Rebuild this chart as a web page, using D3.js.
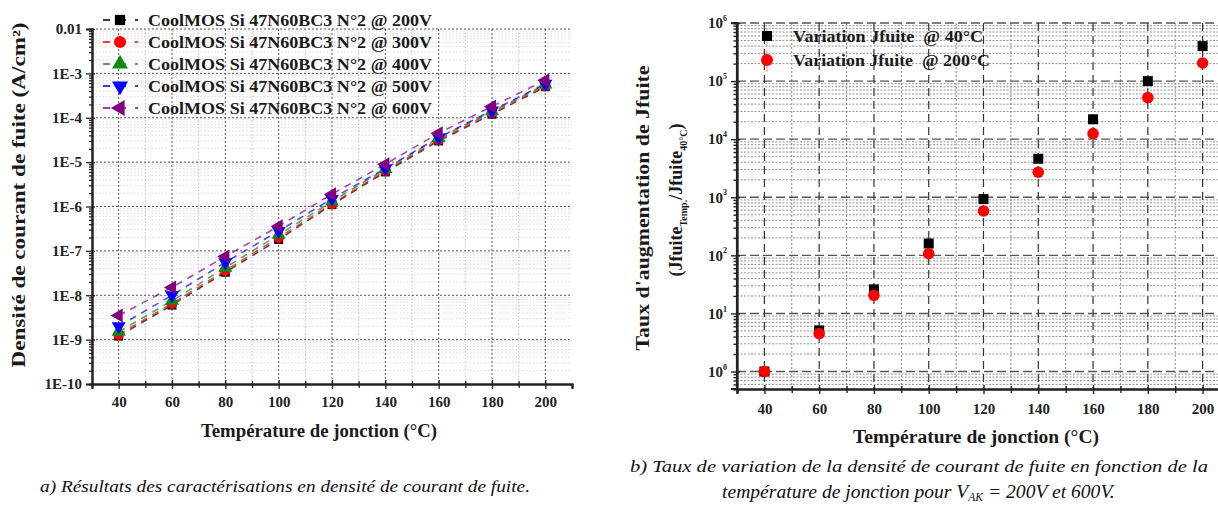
<!DOCTYPE html>
<html><head><meta charset="utf-8">
<script src="https://cdn.jsdelivr.net/npm/d3@7"></script>
<style>body{margin:0;background:#fff}svg{display:block}</style>
</head><body><svg id="c" width="1218" height="507"></svg>
<script>
// ---------- DATA ----------
const temperatures = [40, 60, 80, 100, 120, 140, 160, 180, 200];
const seriesNames = [
  "CoolMOS Si 47N60BC3 N°2 @ 200V",
  "CoolMOS Si 47N60BC3 N°2 @ 300V",
  "CoolMOS Si 47N60BC3 N°2 @ 400V",
  "CoolMOS Si 47N60BC3 N°2 @ 500V",
  "CoolMOS Si 47N60BC3 N°2 @ 600V"
];
const j200V = [1.2e-9, 6.0e-9, 3.3e-8, 1.8e-7, 1.1e-6, 6.0e-6, 3.0e-5, 1.2e-4, 5.0e-4];
const j300V = [1.3e-9, 6.5e-9, 3.6e-8, 2.0e-7, 1.15e-6, 6.4e-6, 3.2e-5, 1.3e-4, 5.3e-4];
const j400V = [1.5e-9, 7.5e-9, 4.2e-8, 2.3e-7, 1.3e-6, 7.0e-6, 3.5e-5, 1.4e-4, 5.6e-4];
const j500V = [2.0e-9, 1.0e-8, 5.5e-8, 2.8e-7, 1.5e-6, 7.2e-6, 3.6e-5, 1.45e-4, 5.8e-4];
const j600V = [3.5e-9, 1.5e-8, 7.5e-8, 3.6e-7, 1.9e-6, 9.0e-6, 4.5e-5, 1.8e-4, 7.0e-4];
const leftYTickValues = [1e-10, 1e-9, 1e-8, 1e-7, 1e-6, 1e-5, 1e-4, 1e-3, 1e-2];
const leftYTickLabels = ["1E-10", "1E-9", "1E-8", "1E-7", "1E-6", "1E-5", "1E-4", "1E-3", "0.01"];
const xTickValues = [40, 60, 80, 100, 120, 140, 160, 180, 200];

const ratioNames = ["Variation Jfuite  @ 40°C", "Variation Jfuite  @ 200°C"];
const ratio40C = [1, 5.1, 26, 160, 930, 4600, 22000, 100000, 400000];
const ratio200C = [1, 4.5, 20.5, 107, 580, 2700, 12500, 52000, 205000];
const rightYExponents = [0, 1, 2, 3, 4, 5, 6];

// ---------- STYLE ----------
const serif = "'Liberation Serif', 'DejaVu Serif', serif";
const colors = ["#000000", "#ff0000", "#118811", "#0000ff", "#800080"];
const svg = d3.select("#c");

// ================= LEFT CHART =================
const L = {x0: 92, x1: 572, y0: 29, y1: 384};
const xL = d3.scaleLinear().domain([30, 210]).range([L.x0, L.x1]);
const yL = d3.scaleLog().domain([1e-10, 1e-2]).range([L.y1, L.y0]);
const gL = svg.append("g");

// minor grid
const minorDecL = [];
for (let e = -10; e < -2; e++) for (let m = 2; m <= 9; m++) minorDecL.push(m * Math.pow(10, e));
gL.selectAll(".mh").data(minorDecL).enter().append("line")
  .attr("x1", L.x0).attr("x2", L.x1).attr("y1", d => yL(d)).attr("y2", d => yL(d))
  .attr("stroke", "#d2d2d2").attr("stroke-width", 0.8).attr("stroke-dasharray", "1.5,2");
const xMinor = d3.range(50, 210, 20);
gL.selectAll(".mv").data(xMinor).enter().append("line")
  .attr("x1", d => xL(d)).attr("x2", d => xL(d)).attr("y1", L.y0).attr("y2", L.y1)
  .attr("stroke", "#b0b0b0").attr("stroke-width", 0.8).attr("stroke-dasharray", "1.5,2");
// major grid
gL.selectAll(".Mh").data(leftYTickValues.slice(1)).enter().append("line")
  .attr("x1", L.x0).attr("x2", L.x1).attr("y1", d => yL(d)).attr("y2", d => yL(d))
  .attr("stroke", "#555").attr("stroke-width", 1).attr("stroke-dasharray", "2,2");
gL.selectAll(".Mv").data(xTickValues).enter().append("line")
  .attr("x1", d => xL(d)).attr("x2", d => xL(d)).attr("y1", L.y0).attr("y2", L.y1)
  .attr("stroke", "#555").attr("stroke-width", 1).attr("stroke-dasharray", "2,2");

// axes
const axL = gL.append("g").attr("transform", `translate(${L.x0},0)`)
  .call(d3.axisLeft(yL).tickValues(leftYTickValues).tickFormat((d, i) => leftYTickLabels[i]).tickSize(6).tickPadding(4));
const axLm = gL.append("g").attr("transform", `translate(${L.x0},0)`)
  .call(d3.axisLeft(yL).tickValues(minorDecL).tickFormat("").tickSize(3));
const axLx = gL.append("g").attr("transform", `translate(0,${L.y1})`)
  .call(d3.axisBottom(xL).tickValues(xTickValues).tickSize(5).tickPadding(7));
const axLxm = gL.append("g").attr("transform", `translate(0,${L.y1})`)
  .call(d3.axisBottom(xL).tickValues(xMinor).tickFormat("").tickSize(4));
[axL, axLm, axLx, axLxm].forEach(a => {
  a.attr("font-family", serif);
  a.select(".domain").attr("stroke", "#222").attr("stroke-width", 2);
  a.selectAll(".tick line").attr("stroke", "#222").attr("stroke-width", 1.3);
  a.selectAll("text").attr("font-family", serif).attr("font-weight", "bold").attr("font-size", 15).attr("fill", "#222");
});
axLx.selectAll(".tick line").attr("y1", -4);
axLxm.selectAll(".tick line").attr("y1", -3);
axL.selectAll(".tick line").attr("x2", -6).attr("x1", 3);

// series
const leftSeries = [j200V, j300V, j400V, j500V, j600V];
const symbols = [
  {t: d3.symbolSquare, s: 80, r: 0},
  {t: d3.symbolCircle, s: 90, r: 0},
  {t: d3.symbolTriangle, s: 85, r: 0},
  {t: d3.symbolTriangle, s: 85, r: 180},
  {t: d3.symbolTriangle, s: 85, r: -90}
];
const line = d3.line().x((d, i) => xL(temperatures[i])).y(d => yL(d));
leftSeries.forEach((s, k) => {
  gL.append("path").datum(s).attr("d", line).attr("fill", "none")
    .attr("stroke", colors[k]).attr("stroke-width", 1.6).attr("stroke-dasharray", "7,6").attr("opacity", 0.7);
});
leftSeries.forEach((s, k) => {
  gL.selectAll(".p" + k).data(s).enter().append("path")
    .attr("d", d3.symbol().type(symbols[k].t).size(symbols[k].s))
    .attr("transform", (d, i) => `translate(${xL(temperatures[i])},${yL(d)}) rotate(${symbols[k].r})`)
    .attr("fill", colors[k]);
});

// legend
seriesNames.forEach((n, k) => {
  const y = 20 + k * 22;
  gL.append("line").attr("x1", 103).attr("x2", 138).attr("y1", y).attr("y2", y)
    .attr("stroke", colors[k]).attr("stroke-width", 1.6).attr("stroke-dasharray", "7,9");
  gL.append("path").attr("d", d3.symbol().type(symbols[k].t).size(symbols[k].s + 25))
    .attr("transform", `translate(120,${y}) rotate(${symbols[k].r})`).attr("fill", colors[k]);
  gL.append("text").attr("x", 148).attr("y", y + 5.5).text(n)
    .attr("font-family", serif).attr("font-weight", "bold").attr("font-size", 17)
    .attr("textLength", 284).attr("lengthAdjust", "spacingAndGlyphs").attr("fill", "#1a1a1a");
});

// axis titles
gL.append("text").attr("transform", "translate(25,195) rotate(-90)").attr("text-anchor", "middle")
  .attr("font-family", serif).attr("font-weight", "bold").attr("font-size", 18).attr("fill", "#1a1a1a")
  .attr("textLength", 345).attr("lengthAdjust", "spacingAndGlyphs")
  .text("Densité de courant de fuite (A/cm²)");
gL.append("text").attr("x", 319).attr("y", 437).attr("text-anchor", "middle")
  .attr("font-family", serif).attr("font-weight", "bold").attr("font-size", 18).attr("fill", "#1a1a1a")
  .attr("textLength", 236).attr("lengthAdjust", "spacingAndGlyphs")
  .text("Température de jonction (°C)");

// ================= RIGHT CHART =================
const R = {x0: 737, x1: 1230, y0: 23, y1: 389};
const xR = d3.scaleLinear().domain([30, 210]).range([R.x0, R.x1]);
const yR = d3.scaleLog().domain([0.5, 1e6]).range([R.y1, R.y0]);
const gR = svg.append("g");
const minorR = [];
for (let m = 5; m <= 9; m++) minorR.push(m / 10);
for (let e = 0; e < 6; e++) for (let m = 2; m <= 9; m++) minorR.push(m * Math.pow(10, e));
const majorR = rightYExponents.map(e => Math.pow(10, e));

gR.selectAll(".mh").data(minorR).enter().append("line")
  .attr("x1", R.x0).attr("x2", R.x1).attr("y1", d => yR(d)).attr("y2", d => yR(d))
  .attr("stroke", "#888").attr("stroke-width", 0.9).attr("stroke-dasharray", "2,1.5");
gR.selectAll(".mv").data(xMinor).enter().append("line")
  .attr("x1", d => xR(d)).attr("x2", d => xR(d)).attr("y1", R.y0).attr("y2", R.y1)
  .attr("stroke", "#777").attr("stroke-width", 0.9).attr("stroke-dasharray", "2,2");
gR.selectAll(".Mh").data(majorR).enter().append("line")
  .attr("x1", R.x0).attr("x2", R.x1).attr("y1", d => yR(d)).attr("y2", d => yR(d))
  .attr("stroke", "#555").attr("stroke-width", 1.4).attr("stroke-dasharray", "9,4");
gR.selectAll(".Mv").data(xTickValues).enter().append("line")
  .attr("x1", d => xR(d)).attr("x2", d => xR(d)).attr("y1", R.y0).attr("y2", R.y1)
  .attr("stroke", "#333").attr("stroke-width", 1.2).attr("stroke-dasharray", "8,5");

const axR = gR.append("g").attr("transform", `translate(${R.x0},0)`)
  .call(d3.axisLeft(yR).tickValues(majorR).tickFormat("").tickSize(6));
const axRm = gR.append("g").attr("transform", `translate(${R.x0},0)`)
  .call(d3.axisLeft(yR).tickValues(minorR).tickFormat("").tickSize(3.5));
const axRx = gR.append("g").attr("transform", `translate(0,${R.y1})`)
  .call(d3.axisBottom(xR).tickValues(xTickValues).tickSize(5).tickPadding(9));
const axRxm = gR.append("g").attr("transform", `translate(0,${R.y1})`)
  .call(d3.axisBottom(xR).tickValues(xMinor).tickFormat("").tickSize(4));
[axR, axRm, axRx, axRxm].forEach(a => {
  a.attr("font-family", serif);
  a.select(".domain").attr("stroke", "#222").attr("stroke-width", 2.2);
  a.selectAll(".tick line").attr("stroke", "#222").attr("stroke-width", 1.4);
  a.selectAll("text").attr("font-family", serif).attr("font-weight", "bold").attr("font-size", 15).attr("fill", "#222");
});
axRx.selectAll(".tick line").attr("y1", -4);
axRxm.selectAll(".tick line").attr("y1", -3);
axR.selectAll(".tick line").attr("x1", 3);
axR.selectAll(".domain").attr("d", `M-6,${R.y1}H0V${R.y0}H-6`);

// y tick labels 10^n
axR.selectAll(".tick").each(function(d, i) {
  const t = d3.select(this).append("text").attr("x", -10).attr("dy", "0.32em")
    .attr("text-anchor", "end").attr("font-family", serif).attr("font-weight", "bold")
    .attr("font-size", 15).attr("fill", "#222");
  t.append("tspan").text("10");
  t.append("tspan").attr("font-size", 8).attr("dy", "-0.9em").text(rightYExponents[i]);
});

// points
gR.selectAll(".sq").data(ratio40C).enter().append("rect")
  .attr("x", (d, i) => xR(temperatures[i]) - 5).attr("y", d => yR(d) - 5)
  .attr("width", 10).attr("height", 10).attr("fill", "#000");
gR.selectAll(".ci").data(ratio200C).enter().append("circle")
  .attr("cx", (d, i) => xR(temperatures[i])).attr("cy", d => yR(d)).attr("r", 5.8).attr("fill", "#ff0000");

// legend
const legR = [{y: 36, k: 0}, {y: 60, k: 1}];
gR.append("line").attr("x1", 767).attr("x2", 767).attr("y1", 28).attr("y2", 46).attr("stroke", "#6ad").attr("stroke-width", 0.8);
gR.append("line").attr("x1", 767).attr("x2", 767).attr("y1", 50).attr("y2", 72).attr("stroke", "#f66").attr("stroke-width", 0.8);
gR.append("rect").attr("x", 762).attr("y", 31).attr("width", 10).attr("height", 10).attr("fill", "#000");
gR.append("circle").attr("cx", 767).attr("cy", 60).attr("r", 6).attr("fill", "#ff0000");
ratioNames.forEach((n, k) => {
  gR.append("text").attr("x", 793).attr("y", legR[k].y + 6).text(n)
    .attr("font-family", serif).attr("font-weight", "bold").attr("font-size", 17).attr("fill", "#1a1a1a")
    .attr("xml:space", "preserve")
    .attr("textLength", k === 0 ? 190 : 197).attr("lengthAdjust", "spacingAndGlyphs");
});

// axis titles
gR.append("text").attr("transform", "translate(649,208) rotate(-90)").attr("text-anchor", "middle")
  .attr("font-family", serif).attr("font-weight", "bold").attr("font-size", 18).attr("fill", "#1a1a1a")
  .attr("textLength", 285).attr("lengthAdjust", "spacingAndGlyphs")
  .text("Taux d'augmentation de Jfuite");
const yt2 = gR.append("text").attr("transform", "translate(682,200) rotate(-90)").attr("text-anchor", "middle")
  .attr("font-family", serif).attr("font-weight", "bold").attr("font-size", 18).attr("fill", "#1a1a1a");
yt2.append("tspan").text("(Jfuite");
yt2.append("tspan").attr("font-size", 10).attr("dy", 5).text("Temp.");
yt2.append("tspan").attr("dy", -5).text("/Jfuite");
yt2.append("tspan").attr("font-size", 10).attr("dy", 5).text("40°C");
yt2.append("tspan").attr("dy", -5).text(")");
gR.append("text").attr("x", 976).attr("y", 443).attr("text-anchor", "middle")
  .attr("font-family", serif).attr("font-weight", "bold").attr("font-size", 18).attr("fill", "#1a1a1a")
  .attr("textLength", 246).attr("lengthAdjust", "spacingAndGlyphs")
  .text("Température de jonction (°C)");

// ================= CAPTIONS =================
svg.append("text").attr("x", 40).attr("y", 492)
  .attr("font-family", serif).attr("font-style", "italic").attr("font-size", 17).attr("fill", "#111")
  .attr("textLength", 490).attr("lengthAdjust", "spacingAndGlyphs")
  .text("a) Résultats des caractérisations en densité de courant de fuite.");
svg.append("text").attr("x", 630).attr("y", 472)
  .attr("font-family", serif).attr("font-style", "italic").attr("font-size", 17).attr("fill", "#111")
  .attr("textLength", 578).attr("lengthAdjust", "spacingAndGlyphs")
  .text("b) Taux de variation de la densité de courant de fuite en fonction de la");
const cb = svg.append("text").attr("x", 722).attr("y", 498)
  .attr("font-family", serif).attr("font-style", "italic").attr("font-size", 17).attr("fill", "#111");
cb.append("tspan").attr("class", "main").text("température de jonction pour V");
cb.append("tspan").attr("class", "sub").attr("font-size", 10).attr("dy", 3).text("AK");
cb.append("tspan").attr("class", "main").attr("dy", -3).text(" = 200V et 600V.");
// scale line 2 to the reference width
const w0 = cb.node().getComputedTextLength();
if (w0 > 0) {
  const f = 393 / w0;
  cb.selectAll("tspan.main").attr("font-size", 17 * f);
  cb.selectAll("tspan.sub").attr("font-size", 10 * f);
}
</script></body></html>
